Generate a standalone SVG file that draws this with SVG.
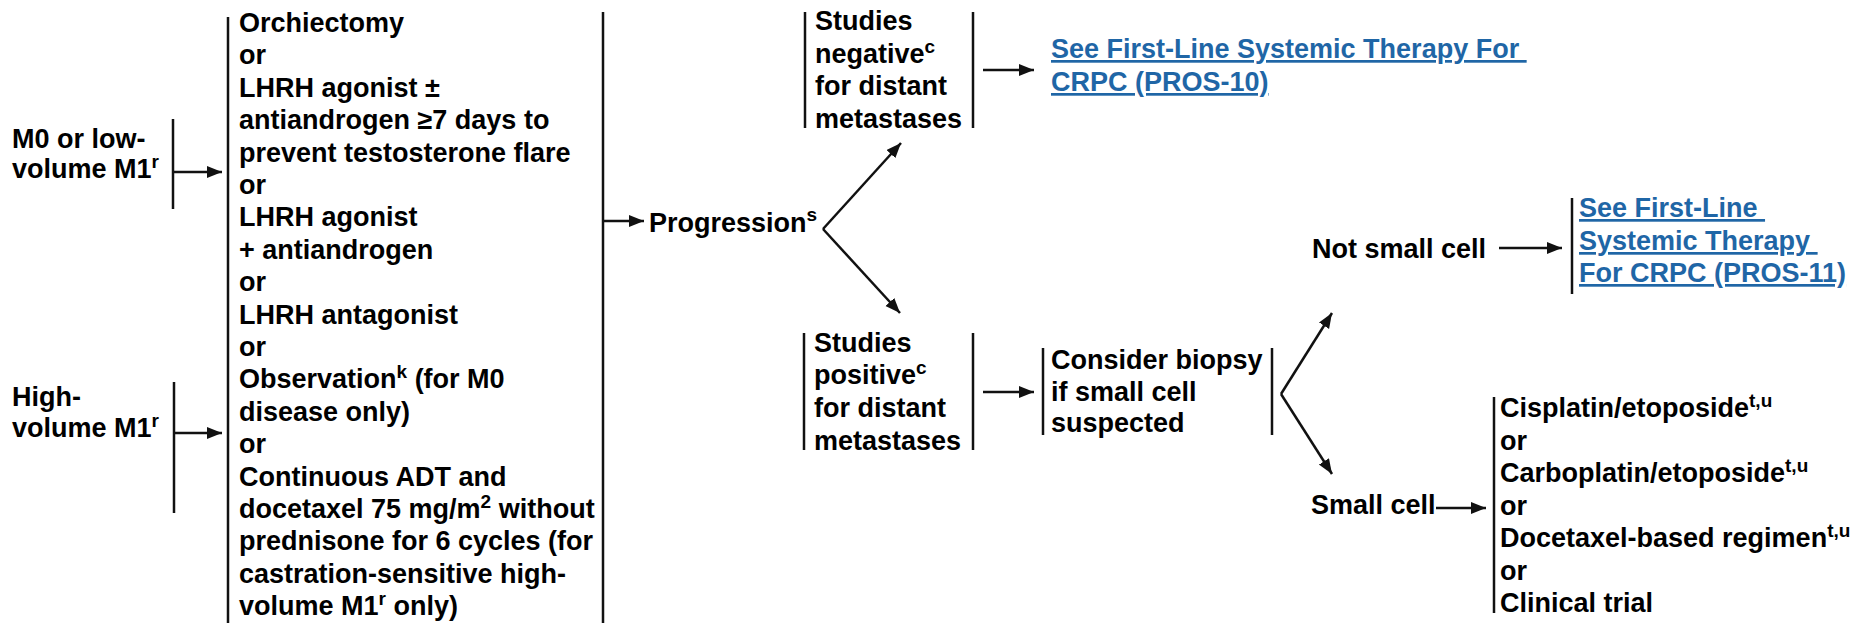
<svg xmlns="http://www.w3.org/2000/svg" width="1858" height="623" viewBox="0 0 1858 623">
  <style>
    text { font-family: "Liberation Sans", Arial, Helvetica, sans-serif; font-weight: bold; font-size: 27px; fill: #000; }
    .sup { font-size: 19px; }
    .link { fill: #1f66a6; text-decoration: underline; }
    .bar { stroke: #111; stroke-width: 2.5; fill: none; }
    .conn { stroke: #111; stroke-width: 2.5; fill: none; marker-end: url(#arrow); }
  </style>
  <defs>
    <marker id="arrow" markerUnits="userSpaceOnUse" markerWidth="16" markerHeight="13" refX="15" refY="6" orient="auto">
      <path d="M0,0 L15,6 L0,12 z" fill="#111"/>
    </marker>
  </defs>
  <rect width="1858" height="623" fill="#fff"/>

  <!-- entry conditions -->
  <g id="node-m0">
    <text x="12" y="148">M0 or low-</text>
    <text x="12" y="178">volume M1<tspan class="sup" dy="-10">r</tspan></text>
    <line class="bar" x1="173" y1="119" x2="173" y2="209"/>
  </g>
  <g id="node-high">
    <text x="12" y="406">High-</text>
    <text x="12" y="437">volume M1<tspan class="sup" dy="-10">r</tspan></text>
    <line class="bar" x1="174" y1="382" x2="174" y2="513"/>
  </g>

  <!-- initial treatment options -->
  <g id="node-treatment">
    <line class="bar" x1="228" y1="17" x2="228" y2="625"/>
    <line class="bar" x1="603" y1="12" x2="603" y2="625"/>
    <text x="239" y="32">Orchiectomy</text>
    <text x="239" y="64.4">or</text>
    <text x="239" y="96.8">LHRH agonist ±</text>
    <text x="239" y="129.2">antiandrogen ≥7 days to</text>
    <text x="239" y="161.6">prevent testosterone flare</text>
    <text x="239" y="194">or</text>
    <text x="239" y="226.4">LHRH agonist</text>
    <text x="239" y="258.8">+ antiandrogen</text>
    <text x="239" y="291.2">or</text>
    <text x="239" y="323.6">LHRH antagonist</text>
    <text x="239" y="356">or</text>
    <text x="239" y="388.4">Observation<tspan class="sup" dy="-10">k</tspan><tspan dy="10"> (for M0</tspan></text>
    <text x="239" y="420.8">disease only)</text>
    <text x="239" y="453.2">or</text>
    <text x="239" y="485.6">Continuous ADT and</text>
    <text x="239" y="518">docetaxel 75 mg/m<tspan class="sup" dy="-10">2</tspan><tspan dy="10"> without</tspan></text>
    <text x="239" y="550.4">prednisone for 6 cycles (for</text>
    <text x="239" y="582.8">castration-sensitive high-</text>
    <text x="239" y="615.2">volume M1<tspan class="sup" dy="-10">r</tspan><tspan dy="10"> only)</tspan></text>
  </g>

  <g id="node-progression">
    <text x="649" y="232">Progression<tspan class="sup" dy="-11">s</tspan></text>
  </g>

  <g id="node-negative">
    <line class="bar" x1="805" y1="12" x2="805" y2="128"/>
    <line class="bar" x1="973" y1="12" x2="973" y2="128"/>
    <text x="815" y="30">Studies</text>
    <text x="815" y="62.5">negative<tspan class="sup" dy="-10">c</tspan></text>
    <text x="815" y="95">for distant</text>
    <text x="815" y="127.5">metastases</text>
  </g>

  <g id="node-pros10">
    <text class="link" x="1051" y="58" xml:space="preserve">See First-Line Systemic Therapy For </text>
    <text class="link" x="1051" y="91">CRPC (PROS-10)</text>
  </g>

  <g id="node-positive">
    <line class="bar" x1="804" y1="333" x2="804" y2="450"/>
    <line class="bar" x1="973" y1="333" x2="973" y2="450"/>
    <text x="814" y="352">Studies</text>
    <text x="814" y="384">positive<tspan class="sup" dy="-10">c</tspan></text>
    <text x="814" y="417">for distant</text>
    <text x="814" y="450">metastases</text>
  </g>

  <g id="node-biopsy">
    <line class="bar" x1="1043" y1="348" x2="1043" y2="435"/>
    <line class="bar" x1="1272" y1="348" x2="1272" y2="435"/>
    <text x="1051" y="369">Consider biopsy</text>
    <text x="1051" y="401">if small cell</text>
    <text x="1051" y="432">suspected</text>
  </g>

  <g id="node-notsmall">
    <text x="1312" y="258">Not small cell</text>
  </g>

  <g id="node-pros11">
    <line class="bar" x1="1572" y1="198" x2="1572" y2="294"/>
    <text class="link" x="1579" y="217" xml:space="preserve">See First-Line </text>
    <text class="link" x="1579" y="250" xml:space="preserve">Systemic Therapy </text>
    <text class="link" x="1579" y="282">For CRPC (PROS-11)</text>
  </g>

  <g id="node-small">
    <text x="1311" y="514">Small cell</text>
  </g>

  <g id="node-chemo">
    <line class="bar" x1="1494" y1="397" x2="1494" y2="613"/>
    <text x="1500" y="417">Cisplatin/etoposide<tspan class="sup" dy="-10">t,u</tspan></text>
    <text x="1500" y="449.5">or</text>
    <text x="1500" y="482">Carboplatin/etoposide<tspan class="sup" dy="-10">t,u</tspan></text>
    <text x="1500" y="514.5">or</text>
    <text x="1500" y="547">Docetaxel-based regimen<tspan class="sup" dy="-10">t,u</tspan></text>
    <text x="1500" y="579.5">or</text>
    <text x="1500" y="612">Clinical trial</text>
  </g>

  <!-- connectors -->
  <g id="connectors">
    <line class="conn" x1="173" y1="172" x2="222" y2="172"/>
    <line class="conn" x1="174" y1="433" x2="222" y2="433"/>
    <line class="conn" x1="603" y1="221" x2="644" y2="221"/>
    <polyline class="conn" points="823,229 901,143"/>
    <polyline class="conn" points="823,229 900,313"/>
    <line class="conn" x1="983" y1="70" x2="1034" y2="70"/>
    <line class="conn" x1="983" y1="392" x2="1034" y2="392"/>
    <polyline class="conn" points="1281,394 1332,313"/>
    <polyline class="conn" points="1281,394 1332,474"/>
    <line class="conn" x1="1499" y1="248" x2="1562" y2="248"/>
    <line class="conn" x1="1436" y1="508" x2="1486" y2="508"/>
  </g>
</svg>
